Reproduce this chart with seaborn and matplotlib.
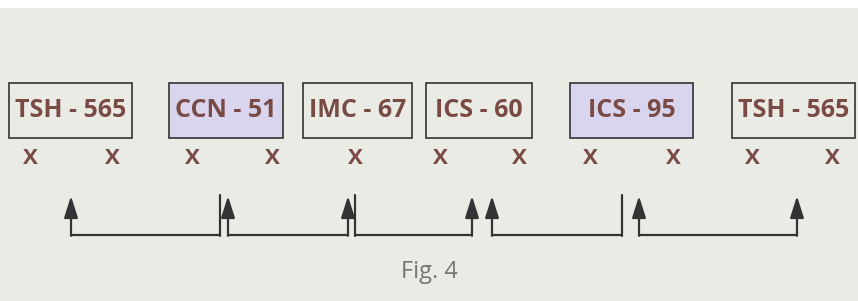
import matplotlib
matplotlib.use("Agg")
import matplotlib.pyplot as plt
import seaborn as sns
from matplotlib.patches import Rectangle

# box labels, left/right edges (pixel units) and whether the box is shaded
labels = ["TSH - 565", "CCN - 51", "IMC - 67", "ICS - 60", "ICS - 95", "TSH - 565"]
box_left = [9, 169, 303, 426, 570, 732]
box_right = [132, 283, 412, 532, 693, 855]
shaded = [False, True, False, False, True, False]

# cross marks under the boxes
cross_x = [30, 112, 192, 272, 355, 440, 519, 590, 673, 752, 832]

# connector brackets: start, end, which ends carry an arrow head
conn_start = [71, 228, 355, 492, 639]
conn_end = [220, 348, 472, 622, 797]
conn_heads = ["left", "both", "right", "left", "both"]

caption = "Fig. 4"

sns.set_theme(style="white")
plt.rcParams["font.family"] = ["Open Sans", "DejaVu Sans"]

bg = "#ebebe6"
brown = "#7a4a44"
dark = "#333333"

fig = plt.figure(figsize=(8.58, 3.01), dpi=100, facecolor=bg)
ax = fig.add_axes([0, 0, 1, 1])
ax.set_facecolor(bg)
ax.set_xlim(0, 858)
ax.set_ylim(301, 0)
ax.axis("off")

# thin white strip at the top
ax.add_patch(Rectangle((0, 0), 858, 8, color="white", lw=0))

box_top, box_bottom = 83, 138
for lab, x0, x1, sh in zip(labels, box_left, box_right, shaded):
    ax.add_patch(Rectangle((x0, box_top), x1 - x0, box_bottom - box_top,
                           facecolor="#d9d5ee" if sh else "none",
                           edgecolor=dark, lw=1.2))
    ax.text((x0 + x1) / 2, (box_top + box_bottom) / 2, lab, color=brown,
            fontsize=18, fontweight="bold", ha="center", va="center")

for cx in cross_x:
    ax.text(cx, 159, "X", color=brown, fontsize=16, fontweight="bold",
            ha="center", va="center")

y_base, y_tip = 235, 196
for s, e, h in zip(conn_start, conn_end, conn_heads):
    ax.plot([s, e], [y_base, y_base], color=dark, lw=1.6, solid_capstyle="butt")
    for x, side in ((s, "left"), (e, "right")):
        if h in (side, "both"):
            ax.annotate("", xy=(x, y_tip), xytext=(x, y_base + 0.8),
                        arrowprops=dict(arrowstyle="-|>,head_length=1.1,head_width=0.35",
                                        color=dark, lw=1.6, shrinkA=0, shrinkB=0))
        else:
            ax.plot([x, x], [y_base + 0.8, y_tip - 1], color=dark, lw=1.6)

ax.text(429, 272, caption, color="#777570", fontsize=17, ha="center", va="center")

fig.savefig("out.png", dpi=100, facecolor=bg)
